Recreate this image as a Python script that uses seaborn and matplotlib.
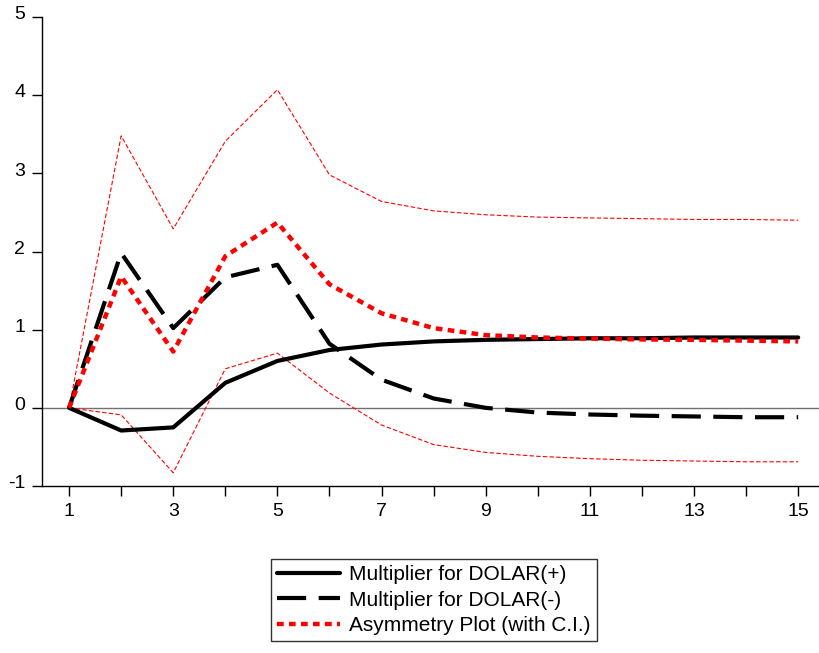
import matplotlib
matplotlib.use("Agg")
import matplotlib.pyplot as plt
import matplotlib.transforms as mtransforms
import seaborn as sns
import pandas as pd
from matplotlib.ticker import FixedLocator, FuncFormatter

horizon = list(range(1, 16))
mult_pos = [0.0, -0.29, -0.25, 0.32, 0.60, 0.74, 0.81, 0.85, 0.87, 0.88, 0.89, 0.89, 0.90, 0.90, 0.90]
mult_neg = [0.0, 1.98, 1.02, 1.67, 1.83, 0.82, 0.36, 0.12, 0.00, -0.06, -0.085, -0.10, -0.11, -0.12, -0.12]
asym = [0.0, 1.68, 0.72, 1.94, 2.37, 1.58, 1.21, 1.02, 0.93, 0.90, 0.886, 0.875, 0.87, 0.86, 0.85]
ci_upper = [0.0, 3.48, 2.29, 3.41, 4.07, 2.98, 2.64, 2.52, 2.47, 2.44, 2.43, 2.42, 2.41, 2.41, 2.40]
ci_lower = [0.0, -0.09, -0.83, 0.50, 0.70, 0.19, -0.22, -0.47, -0.57, -0.62, -0.65, -0.67, -0.68, -0.69, -0.69]

labels = ["Multiplier for DOLAR(+)", "Multiplier for DOLAR(-)", "Asymmetry Plot (with C.I.)"]

sns.set_theme(style="ticks")
plt.rcParams['font.family'] = ['Liberation Sans', 'DejaVu Sans']
plt.rcParams['axes.unicode_minus'] = False
plt.rcParams['text.color'] = 'black'
plt.rcParams['legend.labelcolor'] = 'black'

fig = plt.figure(figsize=(8.19, 6.53), dpi=100)
ax = fig.add_axes([0.0513, 0.2557, 0.9487, 0.7183])

ax.axhline(0, color="#707070", lw=1.0, zorder=1)

df = pd.DataFrame({"h": horizon, "pos": mult_pos, "neg": mult_neg,
                   "asym": asym, "up": ci_upper, "lo": ci_lower})

sns.lineplot(data=df, x="h", y="up", ax=ax, color="red", lw=0.8)
ax.lines[-1].set_dashes([4, 2])
sns.lineplot(data=df, x="h", y="lo", ax=ax, color="red", lw=0.8)
ax.lines[-1].set_dashes([4, 2])
sns.lineplot(data=df, x="h", y="pos", ax=ax, color="black", lw=3.0)
h_pos = ax.lines[-1]
sns.lineplot(data=df, x="h", y="neg", ax=ax, color="black", lw=3.0)
h_neg = ax.lines[-1]
h_neg.set_dashes([7, 3])
sns.lineplot(data=df, x="h", y="asym", ax=ax, color="red", lw=3.2)
h_asym = ax.lines[-1]
h_asym.set_dashes([1.5, 1.2])

ax.set_xlim(0.48, 15.4)
ax.set_ylim(-1, 5)
ax.set_xlabel("")
ax.set_ylabel("")

ax.xaxis.set_major_locator(FixedLocator(horizon))
ax.xaxis.set_major_formatter(FuncFormatter(lambda v, p: f"{int(round(v))}" if int(round(v)) % 2 == 1 else ""))
ax.set_yticks([-1, 0, 1, 2, 3, 4, 5])
ax.tick_params(axis="both", direction="out", length=7, width=1.0, colors="black", labelcolor="black", labelsize=14)
ax.tick_params(axis="x", pad=5)
ax.tick_params(axis="y", pad=5)

offset = mtransforms.ScaledTranslation(0, 3 / 72, fig.dpi_scale_trans)
for lab in ax.get_yticklabels():
    lab.set_transform(lab.get_transform() + offset)

sns.despine(ax=ax, top=True, right=True)
for s in ["left", "bottom"]:
    ax.spines[s].set_color("black")
    ax.spines[s].set_linewidth(1.0)

leg = fig.legend([h_pos, h_neg, h_asym], labels, loc="center", bbox_to_anchor=(0.53, 0.081),
                 frameon=True, fancybox=False, edgecolor="black", fontsize=15,
                 handlelength=3.0, borderpad=0.3, labelspacing=0.3, handletextpad=0.45)
leg.get_frame().set_linewidth(1.0)
for t in leg.get_texts():
    t.set_color("black")

fig.savefig("out.png", dpi=100)
